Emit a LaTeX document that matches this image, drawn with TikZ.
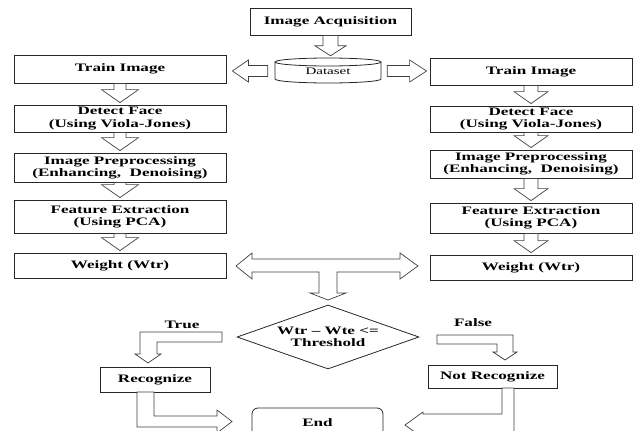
\documentclass[tikz,border=0pt]{standalone}
\usepackage{fontspec}
\setmainfont{Liberation Serif}[FakeStretch=1.5]
\usetikzlibrary{shapes.geometric,calc}

\tikzset{
  stage/.style={draw=black!85, line width=0.8pt, inner sep=0pt, align=center,
    font=\fontsize{11.4}{12.2}\selectfont\bfseries},
  fat/.style={draw=black!75, line width=0.7pt, fill=white, line join=miter},
}

% block arrow pointing down, from #1 to #2 (shaft half, head half, head length)
\newcommand{\fatdown}[5]{%
  \draw[fat] let \p1=(#1.south), \p2=(#2.north) in
    (\x1-#3pt,\y1) -- (\x1-#3pt,\y2+#5pt+2pt) -- (\x1-#4pt,\y2+#5pt+2pt)
    -- (\x1,\y2+2pt) -- (\x1+#4pt,\y2+#5pt+2pt) -- (\x1+#3pt,\y2+#5pt+2pt)
    -- (\x1+#3pt,\y1) -- cycle;}

\begin{document}
\begin{tikzpicture}[x=1pt,y=-1pt]
\useasboundingbox (0,0) rectangle (633,431);
\clip (0,0) rectangle (633,431);

\node[stage, minimum width=161pt, minimum height=27pt] (acq) at (330.5,21.5) {Image Acquisition};

% dataset drum
\node[inner sep=0pt, minimum width=106pt, minimum height=26pt,
  font=\fontsize{10}{12}\selectfont] (ds) at (328,71) {Dataset};
\draw[draw=black!85, line width=0.8pt] (275,62) -- (275,79)
  arc[start angle=180, end angle=360, x radius=53pt, y radius=4pt] -- (381,62);
\draw[draw=black!85, line width=0.8pt] (328,62) ellipse[x radius=53pt, y radius=4pt];

% left column
\node[stage, minimum width=212pt, minimum height=28pt] (ti1) at (120,69) {Train Image};
\node[stage, minimum width=212pt, minimum height=27pt] (df1) at (120,118.5) {Detect Face\\(Using Viola-Jones)};
\node[stage, minimum width=212pt, minimum height=29pt] (ip1) at (120,167.5) {Image Preprocessing\\(Enhancing,\ \ Denoising)};
\node[stage, minimum width=212pt, minimum height=33pt] (fe1) at (120,216.5) {Feature Extraction\\(Using PCA)};
\node[stage, minimum width=212pt, minimum height=25pt] (wt1) at (120,265.5) {Weight (Wtr)};

% right column
\node[stage, minimum width=202pt, minimum height=27pt] (ti2) at (531,71.5) {Train Image};
\node[stage, minimum width=202pt, minimum height=26pt] (df2) at (531,119) {Detect Face\\(Using Viola-Jones)};
\node[stage, minimum width=202pt, minimum height=28pt] (ip2) at (531,164) {Image Preprocessing\\(Enhancing,\ \ Denoising)};
\node[stage, minimum width=202pt, minimum height=30pt] (fe2) at (531,218) {Feature Extraction\\(Using PCA)};
\node[stage, minimum width=202pt, minimum height=25pt] (wt2) at (531,267.5) {Weight (Wtr)};

% decision and results
\node[stage, diamond, aspect=2.8, minimum width=182pt, minimum height=64pt] (dec) at (328,337) {Wtr -- Wte <=\\Threshold};
\node[font=\fontsize{11.4}{12.2}\selectfont\bfseries] (yes) at (182,325) {True};
\node[font=\fontsize{11.4}{12.2}\selectfont\bfseries] (no) at (473,323) {False};
\node[stage, minimum width=110pt, minimum height=25pt] (rec) at (155,379.5) {Recognize};
\node[stage, minimum width=129pt, minimum height=23pt] (nrec) at (492.5,377) {Not Recognize};
\node[stage, rounded corners=6pt, minimum width=131pt, minimum height=30pt] (end) at (317.5,423) {End};

% arrows
\fatdown{acq}{ds}{7.5}{15.5}{10}
\draw[fat] let \p1=(ds.west), \p2=(ti1.east) in
  (\x1-7pt,\y1+5.5pt) -- (\x2+22pt,\y1+5.5pt) -- (\x2+22pt,\y1+11pt) -- (\x2+6pt,\y1)
  -- (\x2+22pt,\y1-11pt) -- (\x2+22pt,\y1-5.5pt) -- (\x1-7pt,\y1-5.5pt) -- cycle;
\draw[fat] let \p1=(ds.east), \p2=(ti2.west) in
  (\x1+6pt,\y1+5.5pt) -- (\x2-20pt,\y1+5.5pt) -- (\x2-20pt,\y1+11pt) -- (\x2-3pt,\y1)
  -- (\x2-20pt,\y1-11pt) -- (\x2-20pt,\y1-5.5pt) -- (\x1+6pt,\y1-5.5pt) -- cycle;

\fatdown{ti1}{df1}{6}{18.5}{13}
\fatdown{df1}{ip1}{6}{18.5}{13}
\fatdown{ip1}{fe1}{6}{18.5}{13}
\fatdown{fe1}{wt1}{6}{18.5}{13}
\fatdown{ti2}{df2}{7}{17}{12}
\fatdown{df2}{ip2}{7}{17}{12}
\fatdown{ip2}{fe2}{7}{17}{12}
\fatdown{fe2}{wt2}{7}{17}{12}

% weights to decision
\draw[fat] (236,266) -- (252,253) -- (252,259) -- (400,259) -- (400,253) -- (418,266)
  -- (400,279) -- (400,272) -- (337,272) -- (337,293) -- (346,293) -- (328,300)
  -- (310,293) -- (319,293) -- (319,272) -- (252,272) -- (252,279) -- cycle;

% true / false
\draw[fat] (222,332) -- (140,332) -- (140,354) -- (135,354) -- (148,363) -- (161,354)
  -- (157,354) -- (157,342) -- (222,342) -- cycle;
\draw[fat] (437,335) -- (513,335) -- (513,352) -- (517,352) -- (505,360) -- (493,352)
  -- (497,352) -- (497,344) -- (437,344) -- cycle;

% to end
\draw[fat] (137,392) -- (137,427) -- (217,427) -- (217,433) -- (232,421.5) -- (217,410)
  -- (217,416) -- (154,416) -- (154,392) -- cycle;
\draw[fat] (502,388) -- (502,414) -- (423,414) -- (423,412) -- (405,425) -- (423,438)
  -- (423,436) -- (514,436) -- (514,388) -- cycle;
\end{tikzpicture}
\end{document}
